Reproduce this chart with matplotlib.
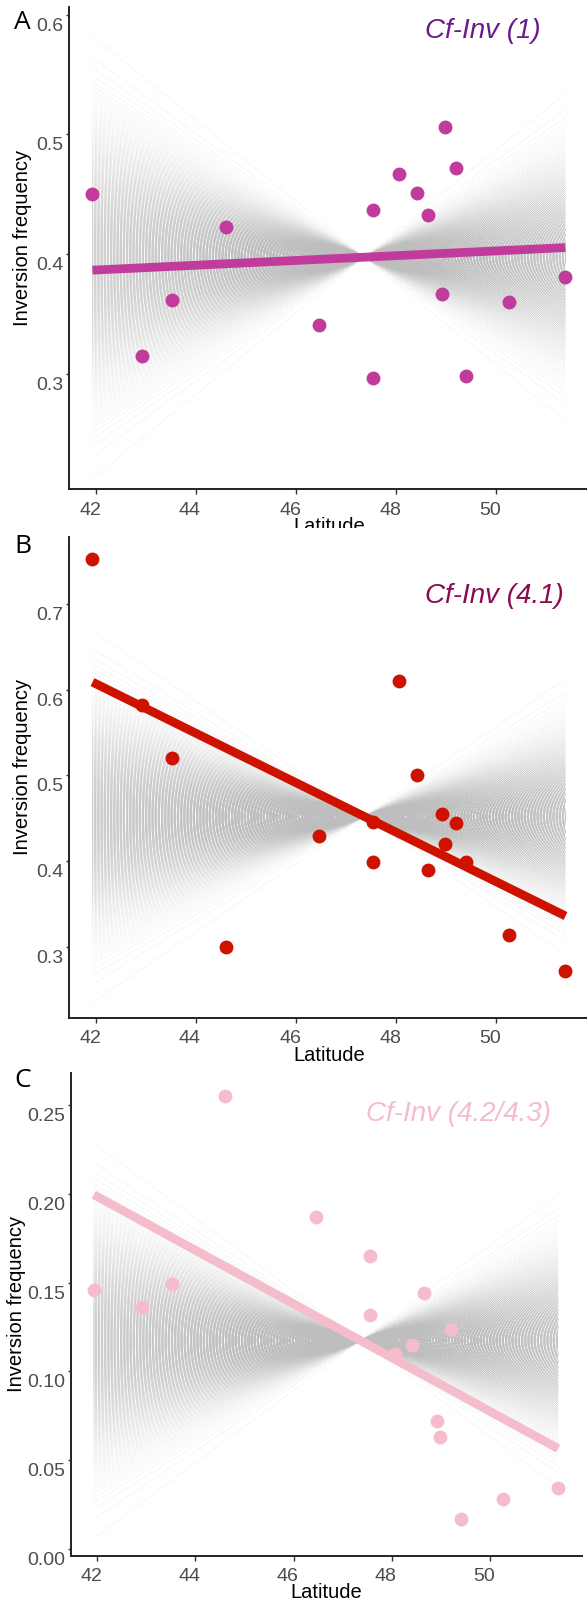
import statistics
import numpy as np
import matplotlib
matplotlib.use("Agg")
import matplotlib.pyplot as plt
from matplotlib.collections import LineCollection
from matplotlib.patches import Rectangle
from matplotlib.transforms import ScaledTranslation

W, H, DPI = 587, 1600, 100

# population latitudes (same 16 populations in every panel)
latitude = [41.93, 42.92, 43.52, 44.61, 46.46, 47.55, 47.55, 48.06,
            48.42, 48.65, 48.92, 48.99, 49.21, 49.41, 50.27, 51.39]

# inversion frequencies
freq_inv1 = [0.450, 0.315, 0.362, 0.423, 0.341, 0.437, 0.297, 0.467,
             0.451, 0.433, 0.367, 0.506, 0.472, 0.298, 0.360, 0.381]
freq_inv41 = [0.753, 0.582, 0.521, 0.300, 0.429, 0.446, 0.399, 0.610,
              0.500, 0.389, 0.455, 0.420, 0.444, 0.399, 0.314, 0.272]
freq_inv423 = [0.146, 0.136, 0.149, 0.255, 0.187, 0.165, 0.132, 0.110,
               0.115, 0.144, 0.072, 0.063, 0.124, 0.017, 0.028, 0.034]

panel_letters = ["A", "B", "C"]
inv_names = ["Cf-Inv (1)", "Cf-Inv (4.1)", "Cf-Inv (4.2/4.3)"]
x_ticks = [42, 44, 46, 48, 50]
y_ticks_ab = [[0.3, 0.4, 0.5, 0.6], [0.3, 0.4, 0.5, 0.6, 0.7]]
y_ticks_c = [0.00, 0.05, 0.10, 0.15, 0.20, 0.25]
# largest slope of the grey null lines, read from the fan edges
fan_max_slope = [0.034, 0.040, 0.0205]
N_FAN = 1000

fig = plt.figure(figsize=(W / DPI, H / DPI), dpi=DPI)
fig.patch.set_facecolor("white")


def fx(x):
    return x / W


def fy(y):
    return 1 - y / H


def off(dx, dy):
    return ScaledTranslation(dx / DPI, -dy / DPI, fig.dpi_scale_trans)


panels = [
    dict(vals=freq_inv1, box=(69, 7, 590, 489.3), ylim=(0.2037, 0.6064),
         yticks=y_ticks_ab[0], yfmt="{:.1f}", pt="#C13B9C", txt="#6A1B8A",
         name_xy=(425, 38.3), letter_y=29.3, ylab_x=22.5),
    dict(vals=freq_inv41, box=(69, 536.7, 590, 1017.7), ylim=(0.217, 0.779),
         yticks=y_ticks_ab[1], yfmt="{:.1f}", pt="#CD1300", txt="#8B0A50",
         name_xy=(425, 603.3), letter_y=553.3, ylab_x=22.5),
    dict(vals=freq_inv423, box=(70.7, 1073.3, 582.3, 1555.5), ylim=(-0.0038, 0.268),
         yticks=y_ticks_c, yfmt="{:.2f}", pt="#F5BDCB", txt="#F5BDCB",
         name_xy=(366, 1121), letter_y=1086.7, ylab_x=16.5),
]

lat = np.array(latitude)
tick_font = dict(family="Liberation Sans", size=14, color="#4D4D4D")

for i, p in enumerate(panels):
    x0, y0, x1, y1 = p["box"]
    ax = fig.add_axes([fx(x0), fy(y1), (x1 - x0) / W, (y1 - y0) / H])
    ax.set_facecolor("none")
    vals = np.array(p["vals"])
    ax.set_xlim(41.46, 51.88)
    ax.set_ylim(*p["ylim"])

    # grey fan of null regression lines through the mean point
    mx, my = lat.mean(), vals.mean()
    nd = statistics.NormalDist(0, fan_max_slope[i] / 3.29)
    slopes = [nd.inv_cdf((k + 0.5) / N_FAN) for k in range(N_FAN)]
    xa, xb = lat.min(), lat.max()
    segs = [[(xa, my + s * (xa - mx)), (xb, my + s * (xb - mx))] for s in slopes]
    lc = LineCollection(segs, colors="#BEBEBE", linewidths=0.3,
                        linestyles=[(0, (1, 2.5))], zorder=1)
    ax.add_collection(lc)

    # points and least-squares fit
    ax.scatter(lat, vals, s=100, color=p["pt"], linewidths=0, zorder=3)
    k, b = np.polyfit(lat, vals, 1)
    ax.plot([xa, xb], [k * xa + b, k * xb + b], color=p["pt"], lw=6.3,
            solid_capstyle="butt", zorder=4)

    # axes styling (ggplot classic look)
    for side in ["top", "right"]:
        ax.spines[side].set_visible(False)
    for side in ["left", "bottom"]:
        ax.spines[side].set_linewidth(1.4)
        ax.spines[side].set_color("#222222")
    ax.set_xticks(x_ticks)
    ax.set_yticks(p["yticks"])
    ax.tick_params(axis="x", length=3.5, width=1, color="#333333", labelbottom=False)
    ax.tick_params(axis="y", length=2.5, width=1, color="#333333", labelleft=False)

    for v in x_ticks:
        ax.text(v, 0, str(v), transform=ax.get_xaxis_transform() + off(-6, 25.7),
                ha="center", va="baseline", **tick_font)
    for v in p["yticks"]:
        ax.text(0, v, p["yfmt"].format(v), transform=ax.get_yaxis_transform() + off(-5.7, 16),
                ha="right", va="baseline", **tick_font)

    # axis titles
    fig.text(fx((x0 + x1) / 2), fy(y1 + 43), "Latitude", ha="center", va="baseline",
             family="Liberation Sans", size=14.5, color="black", zorder=3)
    fig.text(fx(p["ylab_x"]), fy((y0 + y1) / 2 - 10), "Inversion frequency",
             rotation=90, ha="center", va="center",
             family="Liberation Sans", size=14.5, color="black")

    # panel letter and inversion name
    fig.text(fx(14), fy(p["letter_y"]), panel_letters[i], ha="left", va="baseline",
             family=["Open Sans", "DejaVu Sans"], size=19, color="black")
    nx, ny = p["name_xy"]
    fig.text(fx(nx), fy(ny), inv_names[i], ha="left", va="baseline",
             family="Liberation Sans", style="italic", size=20, color=p["txt"])

# the panels were stacked so panel B hides the bottom of panel A's x title
fig.patches.append(Rectangle((0, fy(535)), 1, (535 - 528.3) / H,
                             transform=fig.transFigure, facecolor="white",
                             edgecolor="none", zorder=5))

fig.savefig("out.png", dpi=DPI, facecolor="white")
